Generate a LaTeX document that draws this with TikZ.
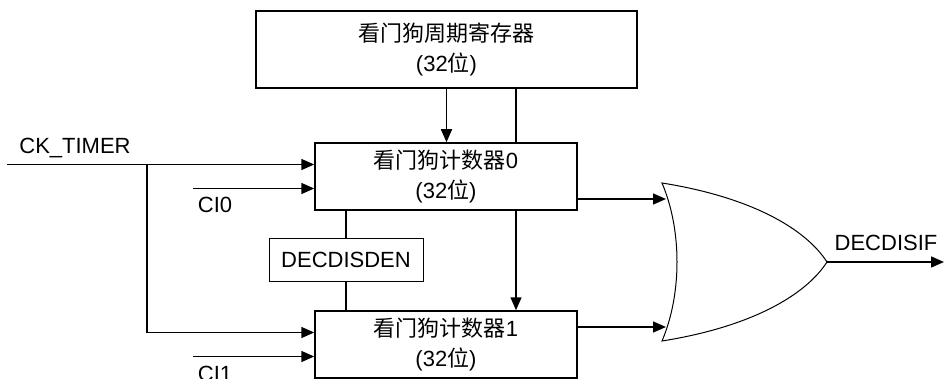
\documentclass[tikz,border=0pt]{standalone}
\usepackage{fontspec}
\setmainfont{Liberation Sans}
\newfontfamily\cjk{Noto Sans CJK SC}
\usetikzlibrary{positioning,arrows.meta}

\begin{document}
\begin{tikzpicture}[x=1pt, y=-1pt, >={Triangle[length=13pt,width=11pt]},
  every node/.style={font=\fontsize{22}{30}\selectfont, align=center, inner sep=0pt},
  blk/.style={draw, line width=1.5pt, minimum width=262pt, minimum height=67pt},
  wire/.style={line width=1.5pt},
  link/.style={line width=1.1pt},
  gate/.style={draw, line width=1pt}]
\useasboundingbox (0,0) rectangle (944,379);
% registers and counters
\node[blk, minimum width=381pt, minimum height=77pt] (reg) at (446.5,49.5) {{\cjk 看门狗周期寄存器}\\(32{\cjk 位})};
\node[blk] (cnt0) at (446,176.5) {{\cjk 看门狗计数器}0\\(32{\cjk 位})};
\node[blk] (cnt1) at (446,344.5) {{\cjk 看门狗计数器}1\\(32{\cjk 位})};
\node[draw, line width=1pt, minimum width=154pt, minimum height=42pt] (den) at (346,260) {DECDISDEN};
% inputs
\coordinate (ck) at (7,164.5); \coordinate (fork) at (147,164.5);
\coordinate (ci0) at (193,188.5); \coordinate (ci1) at (193,356.5);
\node (lck) at (75,148) {CK\_TIMER};
\node (lci0) at (215,205) {CI0};
\node (lci1) at (215,374) {CI1};
\draw[wire,->] (ck) -- ([yshift=12pt]cnt0.west);
\draw[wire,->] (fork) |- ([yshift=12pt]cnt1.west);
\draw[wire,->] (ci0) -- ([yshift=-12pt]cnt0.west);
\draw[wire,->] (ci1) -- ([yshift=-12pt]cnt1.west);
% vertical links
\coordinate (tap) at (516,0);
\draw[wire,->] (reg.south) -- (reg.south |- cnt0.north);
\draw[link] (tap |- reg.south) -- (tap |- cnt0.north);
\draw[wire,->] (tap |- cnt0.south) -- (tap |- cnt1.north);
\draw[link] (den.north) -- (den.north |- cnt0.south);
\draw[link] (den.south) -- (den.south |- cnt1.north);
% OR gate
\coordinate (gtop) at (662,183); \coordinate (gbot) at (662,341); \coordinate (gout) at (827,262);
\coordinate (gin0) at (666,199); \coordinate (gin1) at (666,327); \coordinate (outend) at (944,262);
\draw[gate] (gtop) .. controls (682,230) and (682,294) .. (gbot)
  .. controls (750,327) and (805,296) .. (gout)
  .. controls (805,228) and (750,197) .. (gtop) -- cycle;
\draw[wire,->] (cnt0.east |- gin0) -- (gin0);
\draw[wire,->] (cnt1.east |- gin1) -- (gin1);
\draw[wire,->] (gout) -- (outend);
\node (lif) at (886,243) {DECDISIF};
\end{tikzpicture}
\end{document}
